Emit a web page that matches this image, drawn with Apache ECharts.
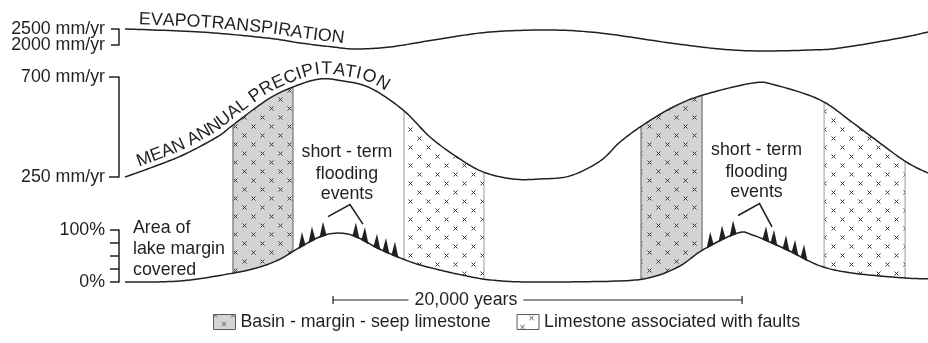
<!DOCTYPE html>
<html>
<head>
<meta charset="utf-8">
<script src="https://cdn.jsdelivr.net/npm/echarts@6/dist/echarts.min.js"></script>
<style>
  html, body { margin: 0; padding: 0; background: #ffffff; }
  #chart { width: 928px; height: 343px; }
</style>
</head>
<body>
<div id="chart"></div>
<script>
// ---- Data: time in thousands of years (0 = start of the 20,000-year bar) ----
const evapoTime = [-10.17, -6.5, -3.23, -1.61, 0, 1.08, 2.79, 5.23, 7.68, 10.61, 13.06, 16.48, 18.92, 20.88, 23.33, 24.79, 27.73, 29.09];
const evapoRate = [2500, 2406, 2219, 2063, 1938, 1875, 1938, 2188, 2406, 2469, 2375, 2063, 1875, 1813, 1844, 1906, 2219, 2406];

const precipTime = [-10.17, -8.95, -7.33, -5.67, -4.89, -3.23, -1.96, -0.64, 0.49, 1.81, 3.42, 4.74, 6.06, 7.33, 8.8, 10.12, 11.59, 13.06, 14.03, 15.16, 16.63, 18.09, 20.54, 21.61, 23.81, 25.43, 27.87, 29.09];
const precipRate = [250, 290, 349, 430, 484, 597, 655, 691, 682, 651, 552, 430, 340, 273, 241, 241, 255, 322, 407, 484, 565, 619, 673, 664, 597, 493, 327, 268];

const lakeTime = [-10.17, -7.48, -4.89, -3.57, -2.59, -1.61, -0.64, 0.2, 1.08, 2.3, 3.91, 5.23, 6.36, 7.68, 9.63, 14.03, 15.65, 16.97, 18.09, 19.76, 20.54, 22.2, 23.81, 25.43, 27.87, 29.09];
const lakeCover = [0, 2, 17, 29, 44, 67, 87, 94, 88, 63, 37, 23, 13, 4, 0, 2, 10, 31, 62, 94, 90, 62, 31, 17, 8, 6];

// Limestone bodies: [start, end] in thousands of years
const seepBands = [[-4.89, -1.96], [15.06, 18.04]];
const faultBands = [[3.47, 7.38], [24.01, 27.97]];

// Short-term flooding events on each lake-area high
const floodCycle1 = [-1.52, -1.03, -0.49, 1.12, 1.56, 2.15, 2.59, 3.03];
const floodCycle2 = [18.44, 19.02, 19.56, 21.17, 21.56, 22.15, 22.59, 23.03];
const floodCycles = [floodCycle1, floodCycle2];
const floodText = ['short - term', 'flooding', 'events'];

// Axis ticks and labels
const evapoTicks = [2000, 2500];
const evapoTickLabels = ['2000 mm/yr', '2500 mm/yr'];
const precipTicks = [250, 700];
const precipTickLabels = ['250 mm/yr', '700 mm/yr'];
const coverTicks = [0, 25, 50, 75, 100];
const coverLabelTicks = [0, 100];
const coverTickLabels = ['0%', '100%'];

const scaleBar = [0, 20];
const scaleBarLabel = '20,000 years';
const curveTitles = ['EVAPOTRANSPIRATION', 'MEAN ANNUAL PRECIPITATION'];
const coverTitle = ['Area of', 'lake margin', 'covered'];
const bandNames = ['Basin - margin - seep limestone', 'Limestone associated with faults'];

// ---- Styling / layout ----
const FONT = "'Liberation Sans', Arial, Helvetica, sans-serif";
const FS = 17.8;
const INK = '#231f20';
const X_MIN = -10.17, X_MAX = 29.09;
const TITLE_START = [-9.54, -9.44];

const chart = echarts.init(document.getElementById('chart'), null, { renderer: 'canvas' });

// Cross-hatch ("x" marks) texture for the limestone fills
function xTexture(bg, px, py) {
  const c = document.createElement('canvas');
  c.width = 18; c.height = 18;
  const g = c.getContext('2d');
  g.fillStyle = bg;
  g.fillRect(0, 0, 18, 18);
  g.strokeStyle = '#3a3a3a';
  g.lineWidth = 1;
  const marks = [[px, py], [px + 9, py + 9]];
  g.beginPath();
  marks.forEach(([mx, my]) => {
    [-18, 0, 18].forEach(dx => [-18, 0, 18].forEach(dy => {
      const cx = mx + dx, cy = my + dy;
      g.moveTo(cx - 2, cy - 2); g.lineTo(cx + 2, cy + 2);
      g.moveTo(cx + 2, cy - 2); g.lineTo(cx - 2, cy + 2);
    }));
  });
  g.stroke();
  return c;
}
const seepFill = { image: xTexture('#d4d4d4', 1.5, 0.5), repeat: 'repeat' };
const faultFill = { image: xTexture('#ffffff', 5.5, 12.5), repeat: 'repeat' };

// Smooth (Catmull-Rom) path through pixel points
function densify(pts, steps) {
  steps = steps || 16;
  const out = [];
  for (let i = 0; i < pts.length - 1; i++) {
    const p0 = pts[i - 1] || pts[i], p1 = pts[i], p2 = pts[i + 1], p3 = pts[i + 2] || pts[i + 1];
    const c1 = [p1[0] + (p2[0] - p0[0]) / 6, p1[1] + (p2[1] - p0[1]) / 6];
    const c2 = [p2[0] - (p3[0] - p1[0]) / 6, p2[1] - (p3[1] - p1[1]) / 6];
    for (let s = 0; s < steps; s++) {
      const t = s / steps, u = 1 - t;
      const a = u * u * u, b = 3 * u * u * t, c = 3 * u * t * t, d = t * t * t;
      out.push([a * p1[0] + b * c1[0] + c * c2[0] + d * p2[0], a * p1[1] + b * c1[1] + c * c2[1] + d * p2[1]]);
    }
  }
  out.push(pts[pts.length - 1].slice());
  return out;
}
function yAt(d, x) {
  if (x <= d[0][0]) return d[0][1];
  for (let i = 0; i < d.length - 1; i++) {
    if (x >= d[i][0] && x <= d[i + 1][0]) {
      const span = d[i + 1][0] - d[i][0] || 1;
      return d[i][1] + (d[i + 1][1] - d[i][1]) * (x - d[i][0]) / span;
    }
  }
  return d[d.length - 1][1];
}
function sliceX(d, xa, xb) {
  const out = [[xa, yAt(d, xa)]];
  d.forEach(p => { if (p[0] > xa && p[0] < xb) out.push(p); });
  out.push([xb, yAt(d, xb)]);
  return out;
}

// Characters laid along a curve
const measure = document.createElement('canvas').getContext('2d');
measure.font = FS + 'px ' + FONT;
function textAlong(d, text, startX, lift) {
  const cum = [0];
  for (let i = 1; i < d.length; i++) cum.push(cum[i - 1] + Math.hypot(d[i][0] - d[i - 1][0], d[i][1] - d[i - 1][1]));
  const at = s => {
    let i = 0;
    while (i < cum.length - 2 && cum[i + 1] < s) i++;
    const f = (s - cum[i]) / ((cum[i + 1] - cum[i]) || 1);
    return [d[i][0] + (d[i + 1][0] - d[i][0]) * f, d[i][1] + (d[i + 1][1] - d[i][1]) * f];
  };
  let k = 0;
  while (k < d.length - 1 && d[k][0] < startX) k++;
  let s = cum[k];
  const els = [];
  for (const ch of text) {
    const w = measure.measureText(ch).width;
    const mid = s + w / 2;
    const p = at(mid), pa = at(mid - 4), pb = at(mid + 4);
    const ang = Math.atan2(pb[1] - pa[1], pb[0] - pa[0]);
    els.push({
      type: 'text',
      x: p[0] + Math.sin(ang) * lift,
      y: p[1] - Math.cos(ang) * lift,
      rotation: -ang,
      style: { text: ch, fontSize: FS, fontFamily: FONT, fill: INK, align: 'center', verticalAlign: 'bottom' }
    });
    s += w;
  }
  return els;
}

function curveSeries(g, times, values, title, start) {
  return {
    type: 'custom',
    coordinateSystem: 'cartesian2d',
    xAxisIndex: g, yAxisIndex: g,
    clip: false, silent: true, z: 3,
    data: times.map((t, i) => [t, values[i]]),
    renderItem(params, api) {
      if (params.dataIndex !== 0) return null;
      const d = densify(times.map((t, i) => api.coord([t, values[i]])));
      const children = [{ type: 'polyline', shape: { points: d }, style: { stroke: INK, lineWidth: 1.5, fill: null } }];
      if (title) {
        const sx = api.coord([start, values[0]])[0];
        textAlong(d, title, sx, 1).forEach(e => children.push(e));
      }
      return { type: 'group', children };
    }
  };
}

function lakePixels(api) {
  return densify(lakeTime.map((t, i) => api.coord([t, lakeCover[i]])));
}
function precipPixels() {
  return densify(precipTime.map((t, i) => chart.convertToPixel({ gridIndex: 1 }, [t, precipRate[i]])));
}

function bandSeries(name, bands, fill, edge, edgeWidth) {
  return {
    name, type: 'custom',
    coordinateSystem: 'cartesian2d',
    xAxisIndex: 2, yAxisIndex: 2,
    clip: false, silent: true, z: 1,
    itemStyle: { color: fill, borderColor: '#5a5a5a', borderWidth: 1 },
    data: bands,
    renderItem(params, api) {
      const xa = api.coord([api.value(0), 0])[0];
      const xb = api.coord([api.value(1), 0])[0];
      const top = sliceX(precipPixels(), xa, xb);
      const bot = sliceX(lakePixels(api), xa, xb);
      return {
        type: 'group',
        children: [
          { type: 'polygon', shape: { points: top.concat(bot.slice().reverse()) }, style: { fill, stroke: null } },
          { type: 'line', shape: { x1: xa, y1: top[0][1], x2: xa, y2: bot[0][1] }, style: { stroke: edge, lineWidth: edgeWidth } },
          { type: 'line', shape: { x1: xb, y1: top[top.length - 1][1], x2: xb, y2: bot[bot.length - 1][1] }, style: { stroke: edge, lineWidth: edgeWidth } }
        ]
      };
    }
  };
}

const SPIKE_H = 14, SPIKE_HW = 3.6;

function yAxisFor(g, min, max, ticks, labelTicks, labels, tickLen, showLine) {
  return {
    gridIndex: g, type: 'value', min, max, position: 'left', offset: 6,
    axisLine: { show: showLine, onZero: false, lineStyle: { color: INK, width: 1.5 } },
    axisTick: { show: showLine, length: tickLen, customValues: ticks, lineStyle: { color: INK, width: 1.5 } },
    axisLabel: {
      show: true, customValues: labelTicks, margin: 14,
      showMinLabel: true, showMaxLabel: true, hideOverlap: false,
      formatter: v => { const i = labelTicks.indexOf(v); return i >= 0 ? labels[i] : ''; },
      fontSize: FS, fontFamily: FONT, color: INK
    },
    splitLine: { show: false }
  };
}

const option = {
  backgroundColor: '#ffffff',
  animation: false,
  grid: [
    { left: 125, right: 0, top: 29, height: 16 },
    { left: 125, right: 0, top: 77, height: 100 },
    { left: 125, right: 0, top: 230, height: 52 }
  ],
  xAxis: [0, 1, 2].map(g => ({ gridIndex: g, type: 'value', min: X_MIN, max: X_MAX, show: false, axisLine: { onZero: false } })),
  yAxis: [
    yAxisFor(0, 2000, 2500, evapoTicks, [evapoTicks[0]], [evapoTickLabels[0]], 8, true),
    yAxisFor(1, 250, 700, precipTicks, precipTicks, precipTickLabels, 10, true),
    yAxisFor(2, 0, 100, coverTicks, coverLabelTicks, coverTickLabels, 9, true),
    // upper evapotranspiration label sits on a companion axis so it is not culled
    yAxisFor(0, 2000, 2500, [], [evapoTicks[1]], [evapoTickLabels[1]], 8, false)
  ],
  legend: {
    data: bandNames,
    left: 213, top: 313,
    icon: 'rect', itemWidth: 22, itemHeight: 15, itemGap: 26,
    padding: 0, selectedMode: false,
    itemStyle: { borderColor: '#5a5a5a', borderWidth: 1 },
    textStyle: { fontSize: FS, fontFamily: FONT, color: INK }
  },
  graphic: [{
    type: 'text', left: 133, top: 218,
    style: { text: coverTitle.join('\n'), fontSize: FS, fontFamily: FONT, fill: INK, lineHeight: 21 }
  }],
  series: [
    bandSeries(bandNames[0], seepBands, seepFill, '#8a8a8a', 1.5),
    bandSeries(bandNames[1], faultBands, faultFill, '#9a9a9a', 1),
    curveSeries(0, evapoTime, evapoRate, curveTitles[0], TITLE_START[0]),
    curveSeries(1, precipTime, precipRate, curveTitles[1], TITLE_START[1]),
    curveSeries(2, lakeTime, lakeCover, null, 0),
    {
      // flooding spikes sitting on the lake-area curve
      type: 'custom', coordinateSystem: 'cartesian2d', xAxisIndex: 2, yAxisIndex: 2,
      clip: false, silent: true, z: 4,
      data: floodCycle1.concat(floodCycle2).map(t => [t, 0]),
      renderItem(params, api) {
        const d = lakePixels(api);
        const x = api.coord([api.value(0), 0])[0];
        return {
          type: 'polygon',
          shape: { points: [[x - SPIKE_HW, yAt(d, x - SPIKE_HW) + 1], [x + SPIKE_HW, yAt(d, x + SPIKE_HW) + 1], [x, yAt(d, x) - SPIKE_H]] },
          style: { fill: INK }
        };
      }
    },
    {
      // "short - term flooding events" callouts
      type: 'custom', coordinateSystem: 'cartesian2d', xAxisIndex: 2, yAxisIndex: 2,
      clip: false, silent: true, z: 4,
      data: floodCycles.map((c, i) => [i, 0]),
      renderItem(params, api) {
        const cyc = floodCycles[api.value(0)];
        const d = lakePixels(api);
        const tip = t => { const x = api.coord([t, 0])[0]; return [x, yAt(d, x) - SPIKE_H]; };
        const a = tip(cyc[2]), b = tip(cyc[4]);
        const L = [a[0] + 5, a[1] - 5], R = [b[0] - 2, b[1] - 3];
        const apex = [(L[0] + R[0]) / 2 + 4.5, Math.min(L[1], R[1]) - 12];
        const children = [{ type: 'polyline', shape: { points: [L, apex, R] }, style: { stroke: INK, lineWidth: 1.6, fill: null } }];
        const offs = [-53, -31, -11];
        floodText.forEach((txt, i) => children.push({
          type: 'text', x: apex[0] - 3, y: apex[1] + offs[i],
          style: { text: txt, fontSize: FS, fontFamily: FONT, fill: INK, align: 'center', verticalAlign: 'middle' }
        }));
        return { type: 'group', children };
      }
    },
    {
      // 20,000-year scale bar
      type: 'custom', coordinateSystem: 'cartesian2d', xAxisIndex: 2, yAxisIndex: 2,
      clip: false, silent: true, z: 4,
      data: [scaleBar],
      renderItem(params, api) {
        const x0 = api.coord([api.value(0), 0])[0];
        const x1 = api.coord([api.value(1), 0])[0];
        const y = api.coord([0, 0])[1] + 18;
        const lx = api.coord([6.5, 0])[0];
        return {
          type: 'group',
          children: [
            { type: 'line', shape: { x1: x0, y1: y, x2: x1, y2: y }, style: { stroke: INK, lineWidth: 1.2 } },
            { type: 'line', shape: { x1: x0, y1: y - 4, x2: x0, y2: y + 4 }, style: { stroke: INK, lineWidth: 1.2 } },
            { type: 'line', shape: { x1: x1, y1: y - 4, x2: x1, y2: y + 4 }, style: { stroke: INK, lineWidth: 1.2 } },
            { type: 'text', x: lx, y: y, style: { text: scaleBarLabel, fontSize: FS, fontFamily: FONT, fill: INK, align: 'center', verticalAlign: 'middle', backgroundColor: '#ffffff', padding: [0, 6] } }
          ]
        };
      }
    }
  ]
};

chart.setOption(option);
</script>
</body>
</html>
